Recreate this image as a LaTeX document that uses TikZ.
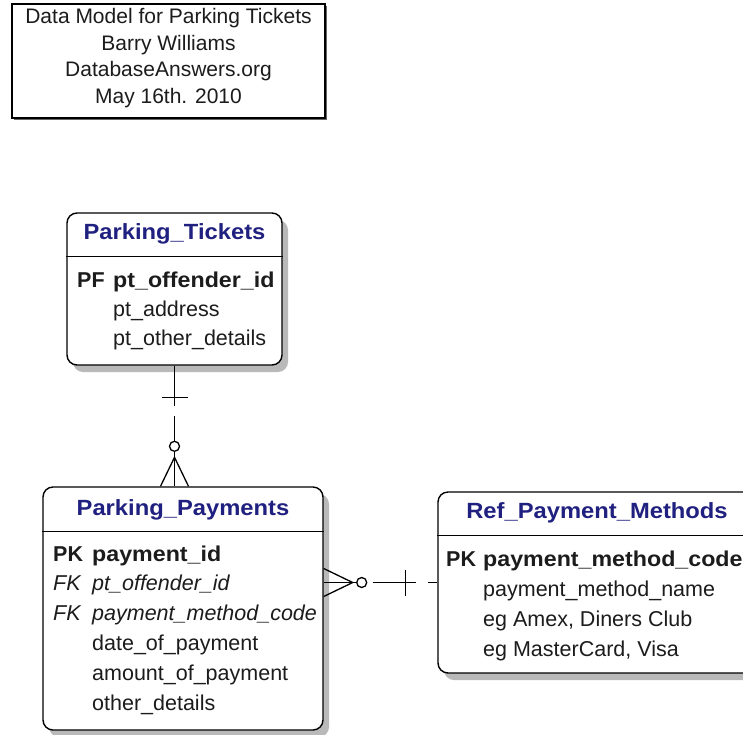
\documentclass[tikz,border=0pt]{standalone}
\usepackage{fontspec}
\setmainfont{Liberation Sans}[BoldFeatures={FakeStretch=1.08}]
\newfontfamily\keyfont{Liberation Sans}
\usepackage{xcolor}
\definecolor{erblue}{RGB}{32,32,128}
\definecolor{ertext}{RGB}{28,28,28}
\definecolor{ershade}{RGB}{185,185,185}
\usetikzlibrary{positioning,calc,shadows}

\tikzset{
  entity/.style={draw=black, line width=1.4pt, rounded corners=10pt, fill=white,
    drop shadow={shadow xshift=6pt, shadow yshift=-7pt, fill=ershade, opacity=1}},
  etitle/.style={font=\fontsize{22}{26}\selectfont\bfseries, text=erblue, inner sep=0pt},
  erow/.style={font=\fontsize{21.5}{26}\selectfont, text=ertext, anchor=base west, inner sep=0pt},
  ekey/.style={erow, font=\fontsize{21.5}{26}\selectfont\keyfont},
  relline/.style={line width=1.3pt, black},
}

\begin{document}
\begin{tikzpicture}[x=1pt,y=-1pt]
	\useasboundingbox (0,0) rectangle (743,734);

	% draw title box
	\node[draw=black, line width=1.4pt, fill=white, minimum width=313pt, minimum height=114pt,
	  drop shadow={shadow xshift=2pt, shadow yshift=-2pt, fill=black!60, opacity=1}]
	  (header) at (168.5,61) {};
	\node[align=center, font=\fontsize{21}{26.5}\selectfont, text=ertext]
	  (headerText) at ([yshift=3pt]header.center) {Data Model for Parking Tickets\\Barry Williams\\DatabaseAnswers.org\\May 16th. 2010};

	% draw entities
	\node[entity, minimum width=215pt, minimum height=152pt] (tickets) at (174.5,289) {};
	\node[etitle] (ticketsT) at ([yshift=-22pt]tickets.north) {Parking\_Tickets};
	\draw[line width=1.2pt] ([yshift=-44pt]tickets.north west) -- ([yshift=-44pt]tickets.north east);
	\node[ekey] at (77,287.5) {\bfseries PF};
	\foreach \f [count=\i from 0] in {\textbf{pt\_offender\_id}, pt\_address, pt\_other\_details}
		\node[erow] at (113,287.5+29*\i) {\f};

	\node[entity, minimum width=280pt, minimum height=243pt] (payments) at (183,608.5) {};
	\node[etitle] (paymentsT) at ([yshift=-24pt]payments.north) {Parking\_Payments};
	\draw[line width=1.2pt] ([yshift=-45pt]payments.north west) -- ([yshift=-45pt]payments.north east);
	\node[ekey] at (53,561) {\bfseries PK};
	\node[ekey] at (53,590.8) {\itshape FK};
	\node[ekey] at (53,620.6) {\itshape FK};
	\foreach \f [count=\i from 0] in {\textbf{payment\_id}, \textit{pt\_offender\_id}, \textit{payment\_method\_code},
	  date\_of\_payment, amount\_of\_payment, other\_details}
		\node[erow] at (92,561+29.8*\i) {\f};

	\node[entity, minimum width=318pt, minimum height=181pt] (ref) at (597,582.5) {};
	\node[etitle] (refT) at ([yshift=-22pt]ref.north) {Ref\_Payment\_Methods};
	\draw[line width=1.2pt] ([yshift=-44pt]ref.north west) -- ([yshift=-44pt]ref.north east);
	\node[ekey] at (446,566) {\bfseries PK};
	\foreach \f [count=\i from 0] in {\textbf{payment\_method\_code}, payment\_method\_name,
	  {eg Amex, Diners Club}, {eg MasterCard, Visa}}
		\node[erow] at (483,566+30*\i) {\f};

	% draw relationships
	\coordinate (tkBot) at (tickets.south);
	\coordinate (ppTop) at (tickets.south |- payments.north);
	\draw[relline] (tkBot) -- ($(tkBot)+(0,40)$);
	\draw[relline] ($(tkBot)+(-13,32)$) -- ($(tkBot)+(13,32)$);
	\draw[relline] ($(ppTop)+(0,-70)$) -- ($(ppTop)+(0,-45)$);
	\draw[relline] ($(ppTop)+(0,-40)$) circle (5pt);
	\draw[relline] ($(ppTop)+(0,-35)$) -- (ppTop);
	\draw[relline] ($(ppTop)+(-14,0)$) -- ($(ppTop)+(0,-29)$) -- ($(ppTop)+(14,0)$);

	\coordinate (ppRight) at (ref.west -| payments.east);
	\coordinate (rfLeft) at (ref.west);
	\draw[relline] ($(ppRight)+(0,-14)$) -- ($(ppRight)+(29,0)$) -- ($(ppRight)+(0,14)$);
	\draw[relline] (ppRight) -- ($(ppRight)+(33,0)$);
	\draw[relline] ($(ppRight)+(38,0)$) circle (5pt);
	\draw[relline] ($(ppRight)+(49,0)$) -- ($(rfLeft)+(-21,0)$);
	\draw[relline] ($(rfLeft)+(-32,-13)$) -- ($(rfLeft)+(-32,13)$);
	\draw[relline] ($(rfLeft)+(-9,0)$) -- (rfLeft);
\end{tikzpicture}
\end{document}
